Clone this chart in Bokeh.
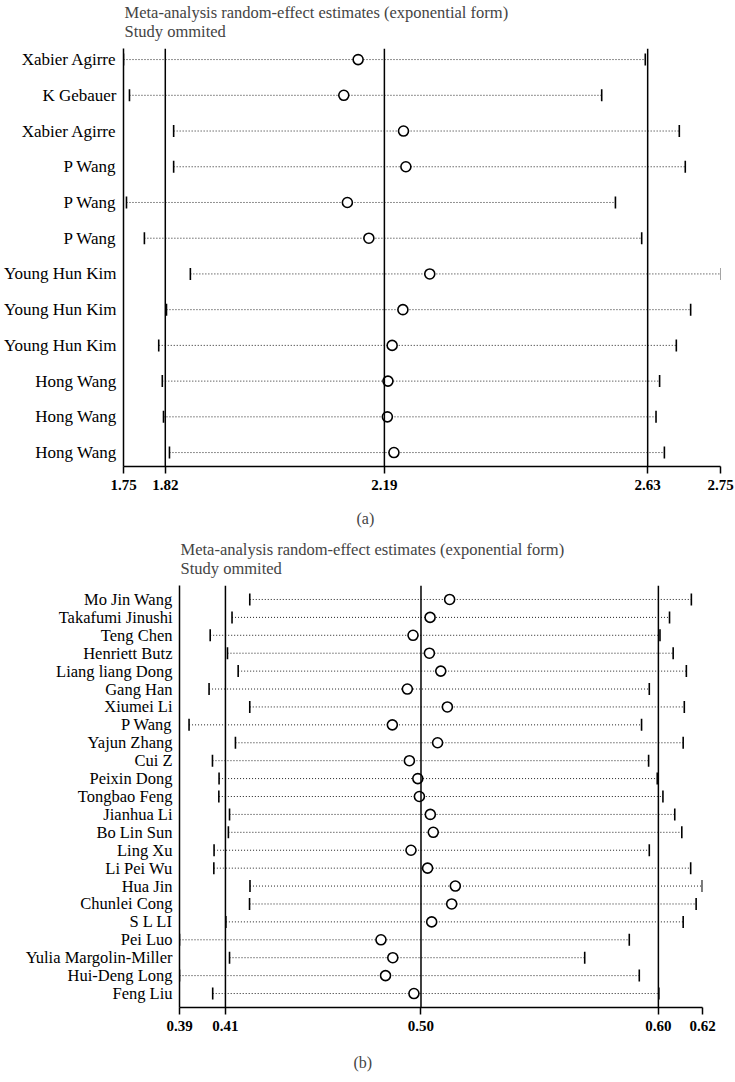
from bokeh.plotting import figure
from bokeh.models import FixedTicker, Span, Title, ColumnDataSource, Range1d
from bokeh.embed import file_html
from bokeh.resources import INLINE
import numpy as np

FONT = "Liberation Serif"
TITLE = "Meta-analysis random-effect estimates (exponential form)\nStudy ommited"

# ---------------- Panel (a) data ----------------
studies_a = ["Xabier Agirre", "K Gebauer", "Xabier Agirre", "P Wang", "P Wang", "P Wang",
             "Young Hun Kim", "Young Hun Kim", "Young Hun Kim", "Hong Wang", "Hong Wang", "Hong Wang"]
lower_a = [1.750, 1.760, 1.834, 1.834, 1.755, 1.785, 1.862, 1.822, 1.809, 1.815, 1.817, 1.827]
est_a = [2.143, 2.119, 2.219, 2.223, 2.125, 2.161, 2.263, 2.218, 2.200, 2.193, 2.192, 2.203]
upper_a = [2.624, 2.551, 2.681, 2.691, 2.574, 2.618, 2.751, 2.700, 2.676, 2.648, 2.642, 2.656]
overall_a = [1.820, 2.187, 2.628]
overall_a_labels = ["1.82", "2.19", "2.63"]
xlim_a = [1.75, 2.75]
xlim_a_labels = ["1.75", "2.75"]

# ---------------- Panel (b) data ----------------
studies_b = ["Mo Jin Wang", "Takafumi Jinushi", "Teng Chen", "Henriett Butz", "Liang liang Dong",
             "Gang Han", "Xiumei Li", "P Wang", "Yajun Zhang", "Cui Z", "Peixin Dong",
             "Tongbao Feng", "Jianhua Li", "Bo Lin Sun", "Ling Xu", "Li Pei Wu", "Hua Jin",
             "Chunlei Cong", "S L LI", "Pei Luo", "Yulia Margolin-Miller", "Hui-Deng Long", "Feng Liu"]
lower_b = [0.4209, 0.4131, 0.4035, 0.4111, 0.4158, 0.4030, 0.4209, 0.3942, 0.4146, 0.4045, 0.4074,
           0.4073, 0.4120, 0.4115, 0.4052, 0.4051, 0.4210, 0.4208, 0.4104, 0.3900, 0.4120, 0.3900, 0.4046]
est_b = [0.5088, 0.5002, 0.4927, 0.4999, 0.5049, 0.4902, 0.5078, 0.4836, 0.5035, 0.4911, 0.4948,
         0.4955, 0.5003, 0.5016, 0.4918, 0.4991, 0.5113, 0.5097, 0.5009, 0.4786, 0.4838, 0.4806, 0.4931]
upper_b = [0.6151, 0.6055, 0.6013, 0.6071, 0.6129, 0.5966, 0.6120, 0.5932, 0.6115, 0.5963, 0.6001,
           0.6026, 0.6078, 0.6109, 0.5966, 0.6148, 0.6199, 0.6172, 0.6115, 0.5878, 0.5682, 0.5922, 0.6008]
overall_b = [0.4102, 0.4962, 0.6006]
overall_b_labels = ["0.41", "0.50", "0.60"]
xlim_b = [0.39, 0.62]
xlim_b_labels = ["0.39", "0.62"]


def make_panel(names, lo, est, hi, overall, overall_labels, xlim, xlim_labels, caption,
               height, top, bottom, left, right, ypad, cap_offset, cap_gap, label_size,
               spacer_size):
    n = len(names)
    ys = list(range(n, 0, -1))
    src = ColumnDataSource(dict(y=ys, lo=lo, est=est, hi=hi))
    p = figure(width=735, height=height, x_range=Range1d(xlim[0], xlim[1]),
               y_range=Range1d(1 - ypad[0], n + ypad[1]), output_backend="svg",
               toolbar_location=None, min_border_top=top, min_border_bottom=bottom,
               min_border_left=left, min_border_right=right, title=None)
    p.outline_line_color = None
    p.xgrid.visible = False
    p.ygrid.visible = False
    p.background_fill_color = "white"

    # overall estimate + CI lines
    for v in overall:
        p.add_layout(Span(location=v, dimension="height", line_color="black", line_width=1.5))

    p.segment(x0="lo", x1="hi", y0="y", y1="y", source=src, line_color="#222222",
              line_width=1, line_dash="1 2")
    p.scatter(x="lo", y="y", source=src, marker="dash", angle=np.pi / 2, size=12,
              line_color="black", line_width=1.6)
    p.scatter(x="hi", y="y", source=src, marker="dash", angle=np.pi / 2, size=12,
              line_color="black", line_width=1.6)
    p.scatter(x="est", y="y", source=src, marker="circle", size=10, fill_color="white",
              line_color="black", line_width=1.6)

    # x axis
    ticks = [xlim[0]] + list(overall) + [xlim[1]]
    labels = [xlim_labels[0]] + list(overall_labels) + [xlim_labels[1]]
    xa = p.xaxis[0]
    xa.ticker = FixedTicker(ticks=ticks)
    xa.major_label_overrides = {t: l for t, l in zip(ticks, labels)}
    xa.minor_tick_line_color = None
    xa.major_tick_in = 0
    xa.major_tick_out = 7
    xa.major_tick_line_width = 1.5
    xa.axis_line_width = 1.5
    xa.major_label_standoff = 6
    xa.major_label_text_font = FONT
    xa.major_label_text_font_size = "15px"
    xa.major_label_text_font_style = "bold"
    xa.major_label_text_color = "black"
    # invisible axis label used only as a gap before the caption
    xa.axis_label = " "
    xa.axis_label_text_font_size = "1px"
    xa.axis_label_standoff = cap_gap

    ya = p.yaxis[0]
    ya.ticker = FixedTicker(ticks=ys)
    ya.major_label_overrides = {y: nm for y, nm in zip(ys, names)}
    ya.minor_tick_line_color = None
    ya.major_tick_in = 0
    ya.major_tick_out = 0
    ya.axis_line_width = 1.5
    ya.major_label_standoff = 7
    ya.major_label_text_font = FONT
    ya.major_label_text_font_size = label_size
    ya.major_label_text_color = "black"

    # spacer between frame and the two-line title, then the title itself
    p.add_layout(Title(text=" ", text_font_size=spacer_size, standoff=0,
                       text_line_height=1.0), "above")
    p.add_layout(Title(text=TITLE, align="left", offset=1, text_font=FONT,
                       text_font_size="16.5px", text_font_style="normal", standoff=0,
                       text_line_height=1.05), "above")
    p.add_layout(Title(text=caption, align="left", offset=cap_offset, text_font=FONT,
                       text_font_size="16px", text_font_style="normal", standoff=0), "below")
    return p


pa = make_panel(studies_a, lower_a, est_a, upper_a, overall_a, overall_a_labels, xlim_a,
                xlim_a_labels, "(a)", height=537, top=45, bottom=71, left=123, right=15,
                ypad=(0.39, 0.31), cap_offset=233, cap_gap=11, label_size="17px",
                spacer_size="4px")
pb = make_panel(studies_b, lower_b, est_b, upper_b, overall_b, overall_b_labels, xlim_b,
                xlim_b_labels, "(b)", height=545, top=48, bottom=75, left=179, right=33,
                ypad=(0.78, 0.78), cap_offset=174, cap_gap=14, label_size="16.5px",
                spacer_size="4px")

open("out.html", "w").write(file_html([pa, pb], INLINE))
